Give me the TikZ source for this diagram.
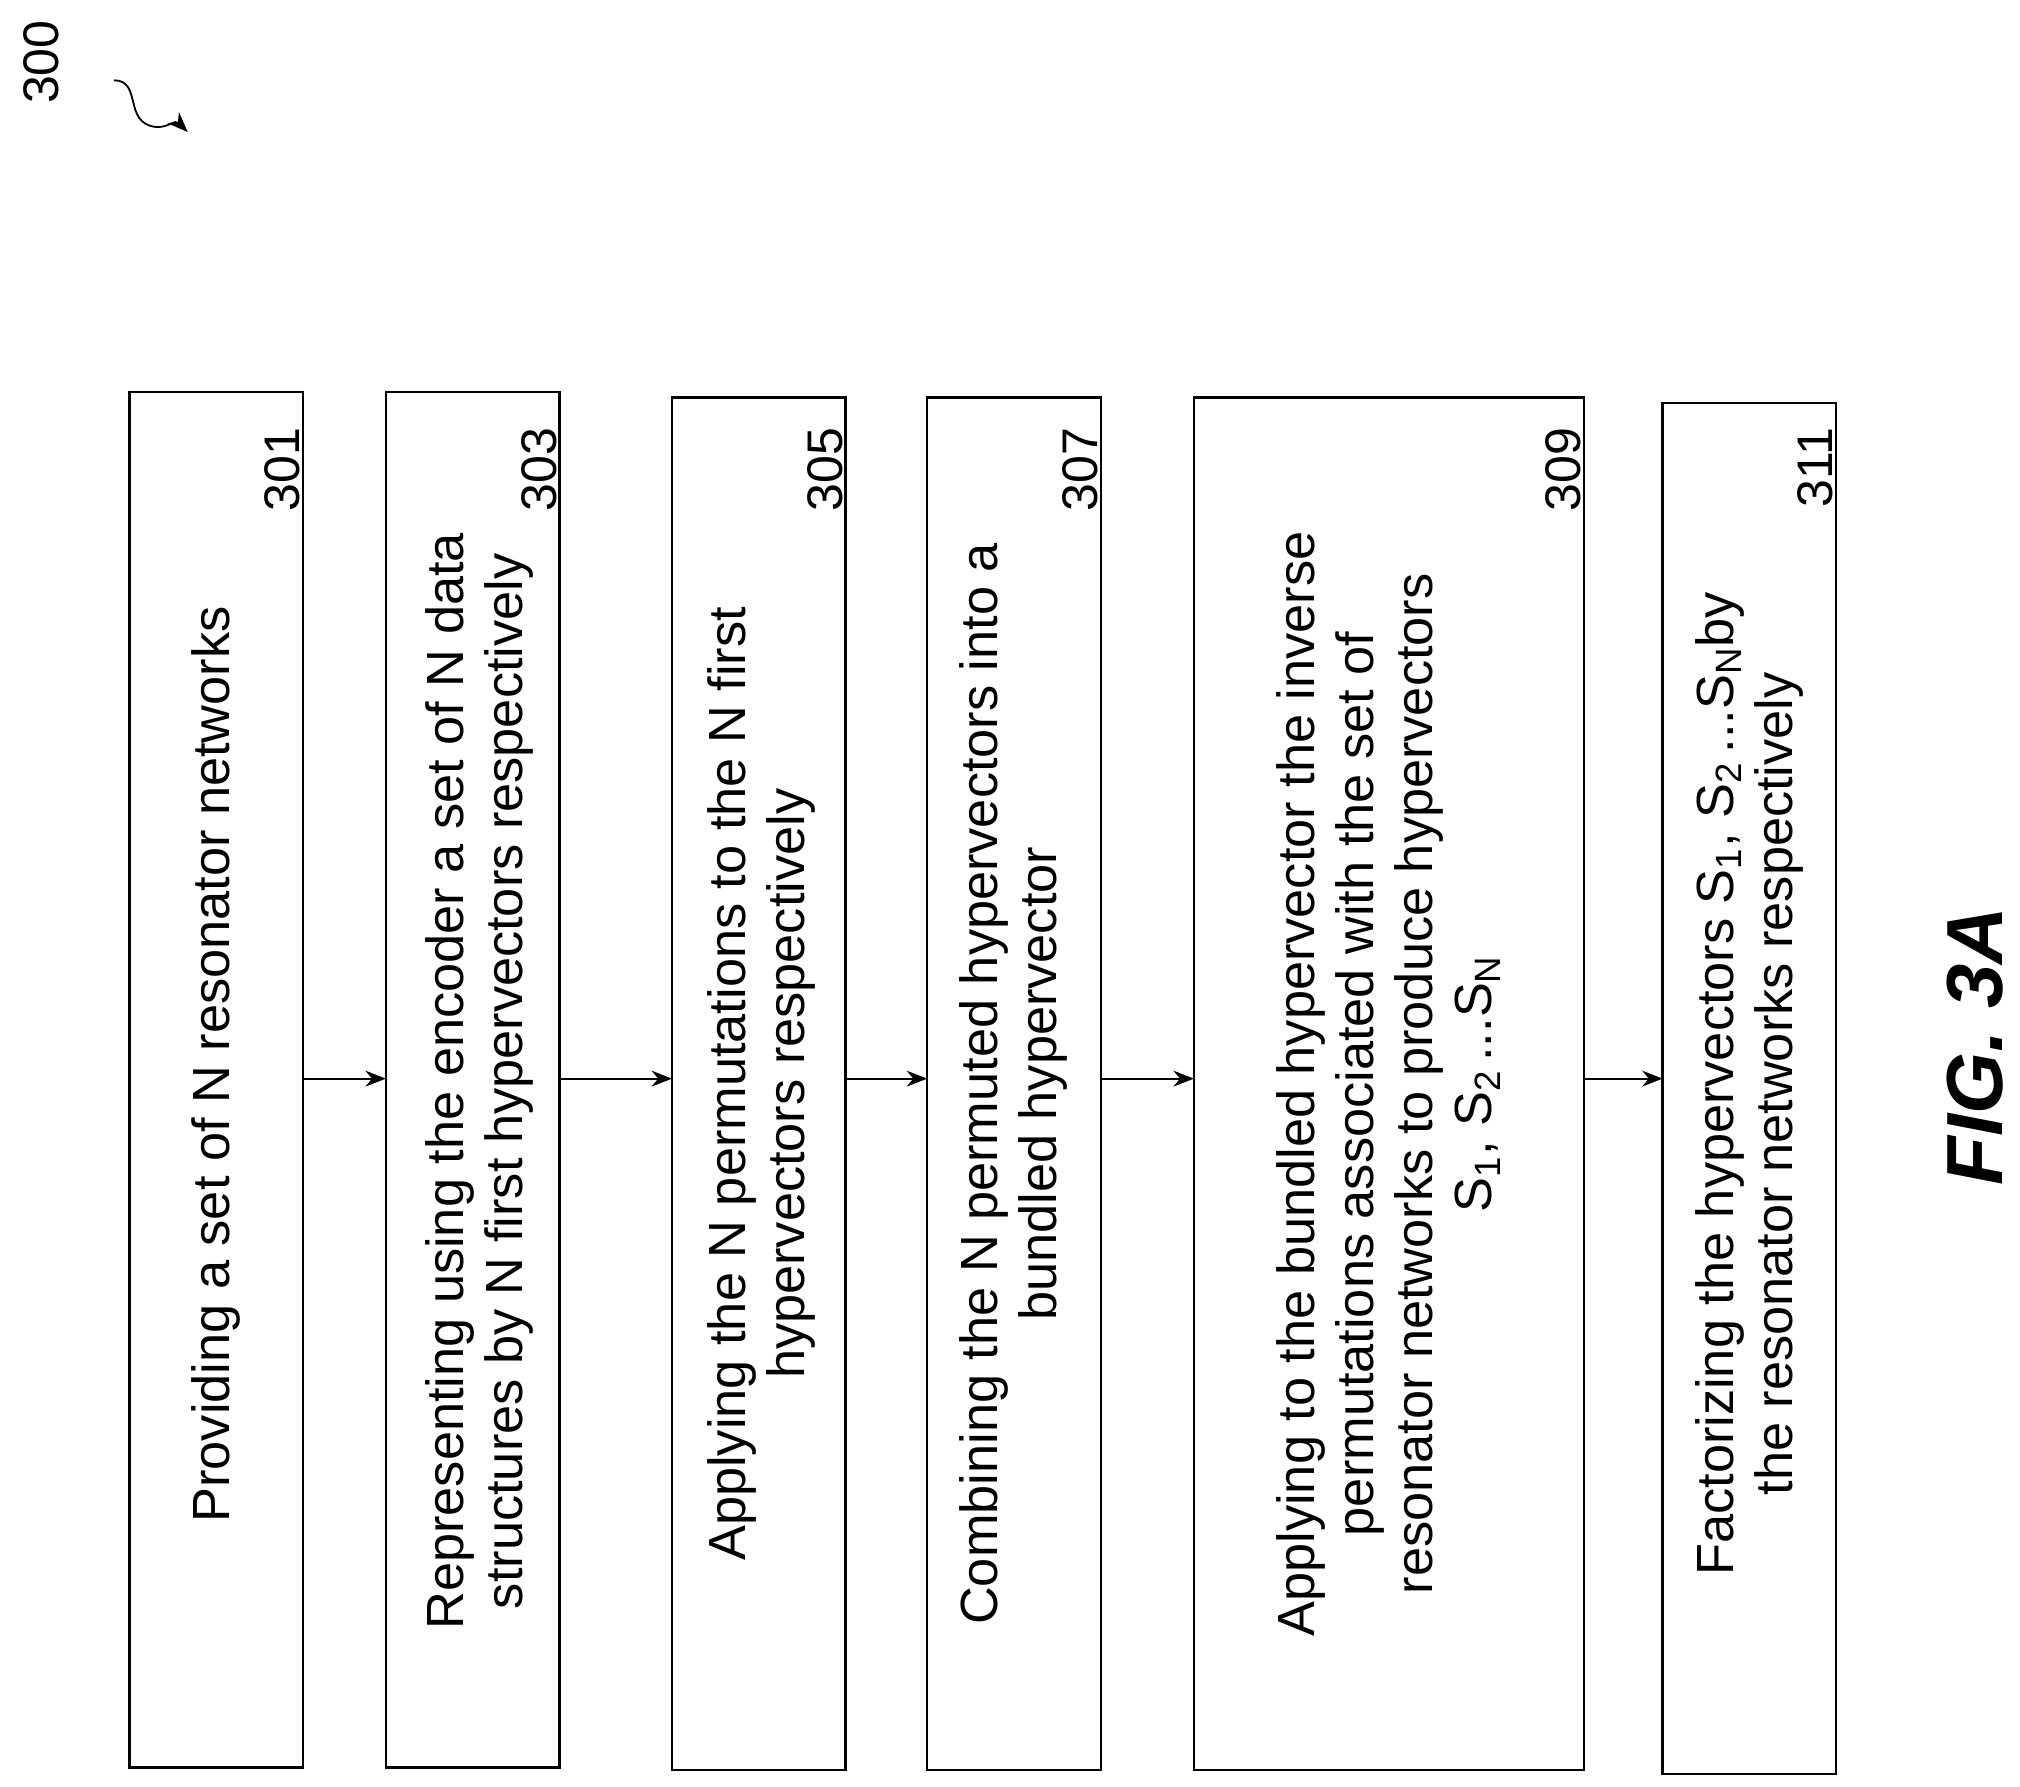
\documentclass[tikz,border=0pt]{standalone}
\usepackage{fontspec}
\setmainfont{Liberation Sans}
\usetikzlibrary{arrows.meta}
\begin{document}
\begin{tikzpicture}[x=0.02cm,y=-0.02cm,
 boxb/.style={draw,line width=1pt},
 txt/.style={rotate=90,align=center,font=\fontsize{23}{26}\selectfont},
 ref/.style={rotate=90,font=\fontsize{22}{26}\selectfont,anchor=east,inner sep=0pt},
 arr/.style={-{Stealth[length=9pt,width=7pt]},line width=0.8pt}]
\useasboundingbox (0,0) rectangle (1560,1380);
\foreach \n/\a/\b/\t/\bb/\r in {b1/100/234/303/1365/301,b2/298/432/303/1365/303,b3/519/653/307/1367/305,b4/716/850/307/1367/307,b5/922/1223/307/1367/309,b6/1284/1418/311/1370/311}{
  \draw[boxb] (\a,\t) rectangle (\b,\bb);
  \node[ref] (r\r) at (\b-14,330) {\underline{\r}};
  \coordinate (\n l) at (\a,833);
  \coordinate (\n r) at (\b,833);
}
\node[txt] (t1) at (167,822) {Providing a set of N resonator networks};
\node[txt] (t2) at (370,835) {Representing using the encoder a set of N data\\structures by N first hypervectors respectively};
\node[txt] (t3) at (588,837) {Applying the N permutations to the N first\\hypervectors respectively};
\node[txt] (t4) at (783,837) {Combining the N permuted hypervectors into a\\bundled hypervector};
\node[txt] (t5) at (1072,837) {Applying to the bundled hypervector the inverse\\permutations associated with the set of\\resonator networks to produce hypervectors\\S\textsubscript{1}, S\textsubscript{2}\,...S\textsubscript{N}};
\node[txt] (t6) at (1351,837) {Factorizing the hypervectors S\textsubscript{1}, S\textsubscript{2}\,...S\textsubscript{N}by\\the resonator networks respectively};
\draw[arr] (b1r) -- (b2l);
\draw[arr] (b2r) -- (b3l);
\draw[arr] (b3r) -- (b4l);
\draw[arr] (b4r) -- (b5l);
\draw[arr] (b5r) -- (b6l);
\node[rotate=90,font=\fontsize{22}{26}\selectfont] (n300) at (32,48) {300};
\coordinate (s0) at (88,62);
\coordinate (s1) at (145,102);
\draw[arr] (s0) .. controls (110,62) and (95,95) .. (120,98) .. controls (130,99) and (135,92) .. (s1);
\node[rotate=90,font=\fontsize{35}{40}\selectfont\bfseries\itshape] (fig) at (1525,808) {FIG. 3A};
\end{tikzpicture}
\end{document}
